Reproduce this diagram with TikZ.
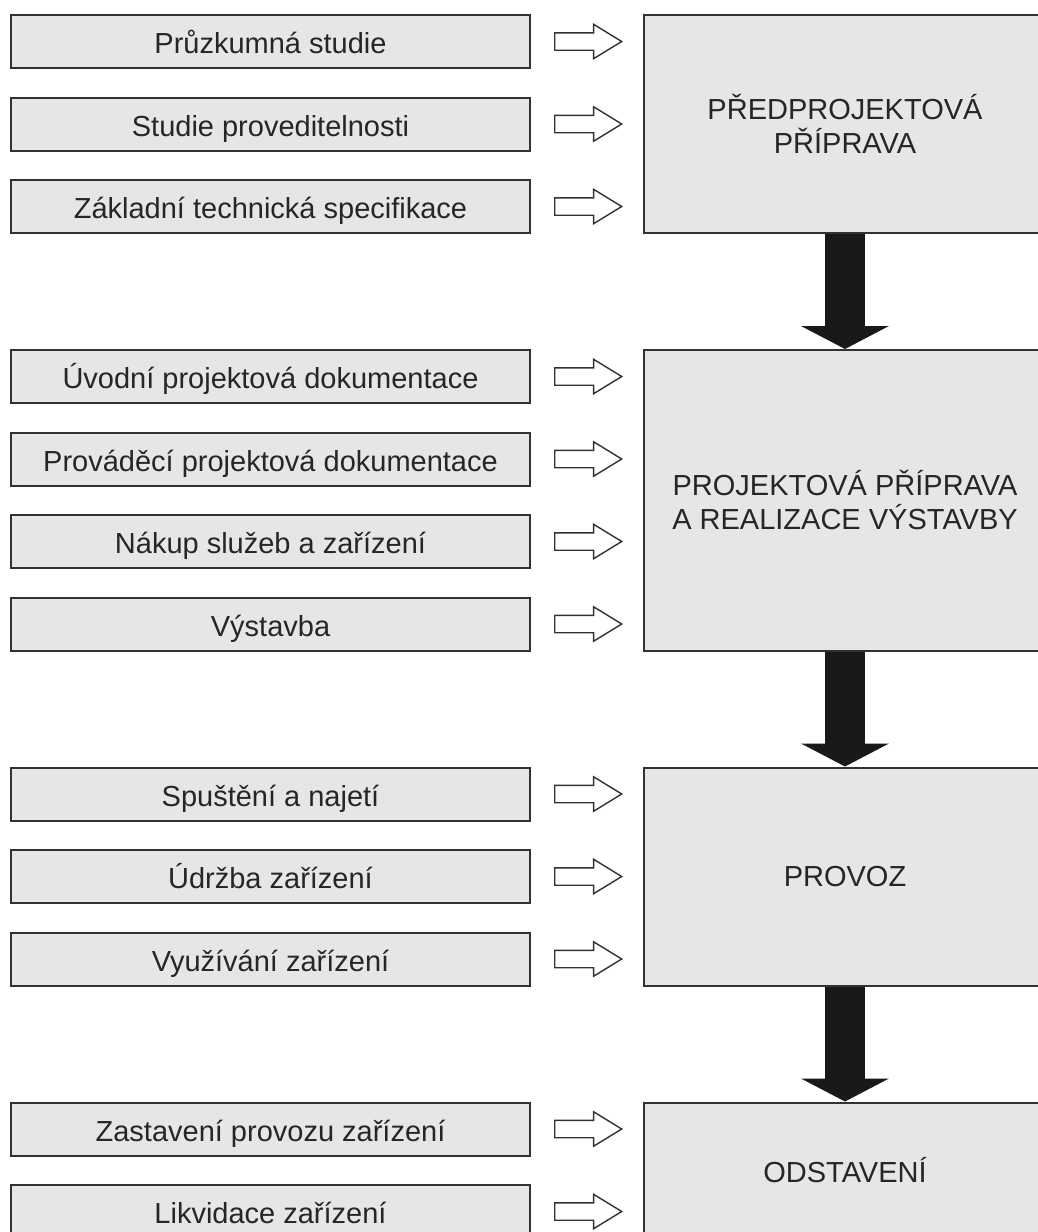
\documentclass[tikz,border=0pt]{standalone}
\usepackage{fontspec}
\setmainfont{Liberation Sans}
\usetikzlibrary{positioning,shapes.arrows,arrows.meta}
\definecolor{boxgray}{RGB}{230,230,232}
\definecolor{edgegray}{RGB}{50,50,50}

\begin{document}
\begin{tikzpicture}[x=0.5pt,y=-0.5pt]
	\tikzset{
		stage/.style={draw=edgegray, line width=1pt, fill=boxgray, text=black!85, minimum width=259.5pt, minimum height=26.5pt, inner sep=0pt, text height=13pt, text depth=1pt, font=\fontsize{14.5}{17}\selectfont},
		phase/.style={draw=edgegray, line width=1pt, fill=boxgray, text=black!85, minimum width=201pt, inner sep=0pt, align=center, font=\fontsize{14.5}{17}\selectfont},
		feed/.style={single arrow, draw=edgegray, line width=0.7pt, fill=white, inner xsep=0pt, inner ysep=4pt, minimum height=33.5pt, single arrow head extend=4.25pt, single arrow tip angle=63, right=11.5pt of #1},
		flow/.style={line width=20pt, draw=black!90, -{Triangle[width=44pt,length=11.5pt,line width=0pt]}}
	}
	\useasboundingbox (0,0) rectangle (1038,1232);

	% phases
	\node[phase, minimum height=109pt] (p1) at (845,124) {PŘEDPROJEKTOVÁ\\PŘÍPRAVA};
	\node[phase, minimum height=150.25pt] (p2) at (845,500.25) {PROJEKTOVÁ PŘÍPRAVA\\A REALIZACE VÝSTAVBY};
	\node[phase, minimum height=109pt] (p3) at (845,876.5) {PROVOZ};
	\node[phase, minimum height=67.75pt] (p4) at (845,1170.25) {ODSTAVENÍ};

	\draw[flow] (p1.south) -- (p2.north);
	\draw[flow] (p2.south) -- (p3.north);
	\draw[flow] (p3.south) -- (p4.north);

	% stages
	\node[stage] (s1) at (270.5,41.5) {Průzkumná studie};
	\node[stage] (s2) at (270.5,124) {Studie proveditelnosti};
	\node[stage] (s3) at (270.5,206.5) {Základní technická specifikace};

	\node[stage] (s4) at (270.5,376.5) {Úvodní projektová dokumentace};
	\node[stage] (s5) at (270.5,459) {Prováděcí projektová dokumentace};
	\node[stage] (s6) at (270.5,541.5) {Nákup služeb a zařízení};
	\node[stage] (s7) at (270.5,624) {Výstavba};

	\node[stage] (s8) at (270.5,794) {Spuštění a najetí};
	\node[stage] (s9) at (270.5,876.5) {Údržba zařízení};
	\node[stage] (s10) at (270.5,959) {Využívání zařízení};

	\node[stage] (s11) at (270.5,1129) {Zastavení provozu zařízení};
	\node[stage] (s12) at (270.5,1211.5) {Likvidace zařízení};

	% small arrows
	\node[feed=s1] (a1) {};
	\node[feed=s2] (a2) {};
	\node[feed=s3] (a3) {};
	\node[feed=s4] (a4) {};
	\node[feed=s5] (a5) {};
	\node[feed=s6] (a6) {};
	\node[feed=s7] (a7) {};
	\node[feed=s8] (a8) {};
	\node[feed=s9] (a9) {};
	\node[feed=s10] (a10) {};
	\node[feed=s11] (a11) {};
	\node[feed=s12] (a12) {};
\end{tikzpicture}
\end{document}
